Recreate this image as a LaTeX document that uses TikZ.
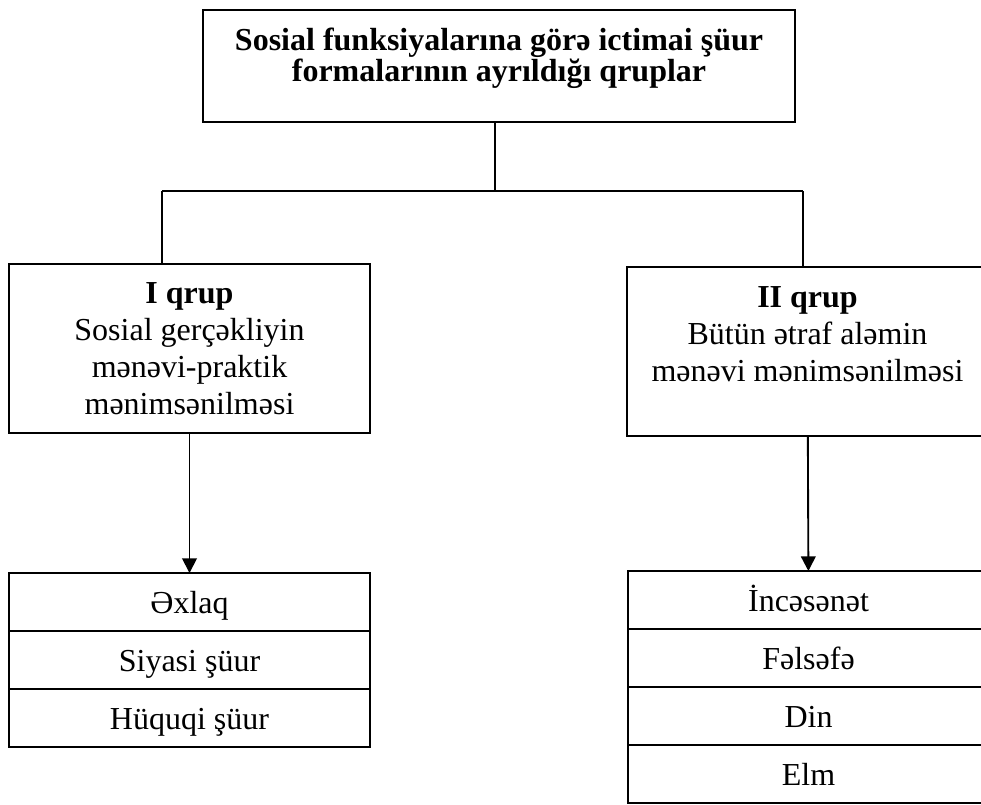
\documentclass[tikz,border=0pt]{standalone}
\usepackage{fontspec}
\setmainfont{Liberation Serif}
\usetikzlibrary{arrows.meta,positioning}
\newcommand{\lowgap}[1]{\rule[-#1]{0pt}{#1}}

\begin{document}
\begin{tikzpicture}[x=0.75pt,y=-0.75pt,
 every node/.style={outer sep=0pt},
 box/.style={rectangle,draw=black,line width=1.1pt,align=center,inner sep=0pt},
 head/.style={box,minimum width=444pt,minimum height=84pt,font=\bfseries\fontsize{24pt}{21pt}\selectfont},
 grp/.style={box,minimum width=270.75pt,minimum height=126.75pt,font=\fontsize{24pt}{27.75pt}\selectfont},
 cell/.style={box,minimum width=270.75pt,minimum height=43.5pt,text height=16.5pt,text depth=0pt,font=\fontsize{24pt}{27pt}\selectfont},
 link/.style={line width=1pt},
 arr/.style={line width=1.4pt,-{Triangle[length=11pt,width=11pt]}}]
\clip (0,0) rectangle (981,804);
\node[head,anchor=north west] (title) at (203,10) {Sosial funksiyalarına görə ictimai şüur\\formalarının ayrıldığı qruplar\lowgap{17.5pt}};
\node[grp,anchor=north west] (grpI) at (9,264) {\textbf{I qrup}\\Sosial gerçəkliyin\\mənəvi-praktik\\mənimsənilməsi};
\node[grp,anchor=north west] (grpII) at (627,267) {\textbf{II qrup}\\Bütün ətraf aləmin\\mənəvi mənimsənilməsi\lowgap{26pt}};
% birinci qrup
\node[cell,anchor=north west] (exlaq) at (9,573) {Əxlaq};
\node[cell,below=0pt of exlaq] (siyasi) {Siyasi şüur};
\node[cell,below=0pt of siyasi] (huquqi) {Hüquqi şüur};
% ikinci qrup
\node[cell,anchor=north west] (incesenet) at (628,571) {İncəsənət};
\node[cell,below=0pt of incesenet] (felsefe) {Fəlsəfə};
\node[cell,below=0pt of felsefe] (din) {Din};
\node[cell,below=0pt of din] (elm) {Elm};
\coordinate (fork) at (495,191);
\coordinate (forkI) at (162,191);
\coordinate (forkII) at (803,191);
\draw[link] (title.south -| fork) -- (fork);
\draw[link] (forkI) -- (forkII);
\draw[link] (forkI) -- (forkI |- grpI.north);
\draw[link] (forkII) -- (forkII |- grpII.north);
\draw[arr] (grpI) -- (exlaq);
\draw[arr] (grpII) -- (incesenet);
\draw[line width=2pt] (felsefe.south west) -- (felsefe.south east);
\end{tikzpicture}
\end{document}
